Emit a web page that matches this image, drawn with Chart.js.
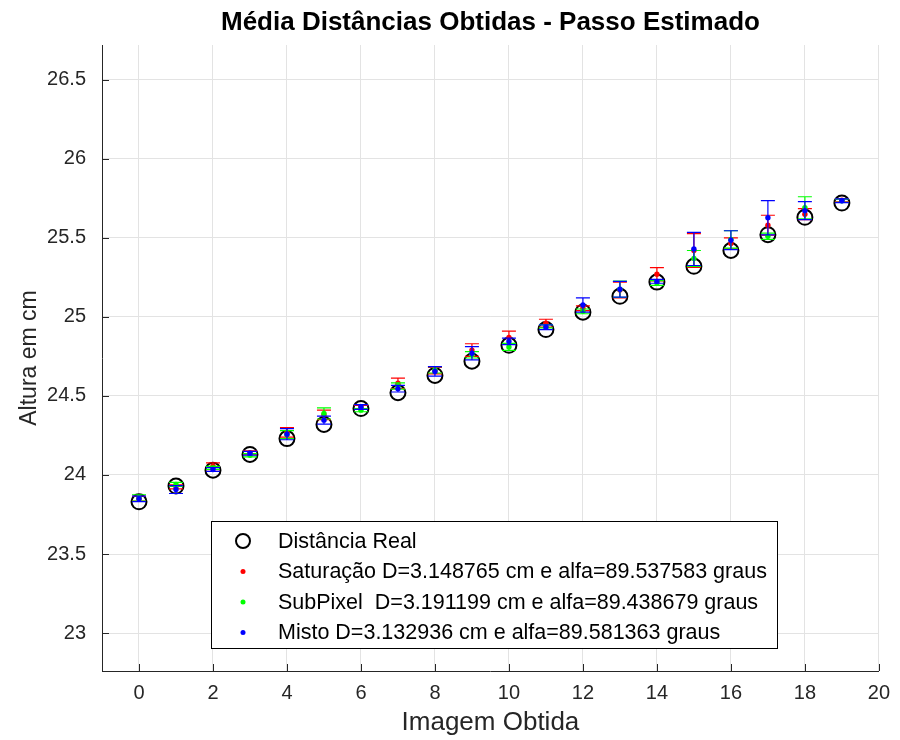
<!DOCTYPE html>
<html>
<head>
<meta charset="utf-8">
<script src="https://cdn.jsdelivr.net/npm/chart.js@4.4.1/dist/chart.umd.min.js"></script>
<style>
  html, body { margin: 0; padding: 0; background: #fff; }
  #wrap { width: 900px; height: 740px; }
</style>
</head>
<body>
<div id="wrap"><canvas id="chart" width="900" height="740"></canvas></div>
<script>
// data
const imagens = [0, 1, 2, 3, 4, 5, 6, 7, 8, 9, 10, 11, 12, 13, 14, 15, 16, 17, 18, 19];
const distReal = [23.83, 23.93, 24.03, 24.13, 24.23, 24.32, 24.42, 24.52, 24.63, 24.72,
                  24.82, 24.92, 25.03, 25.13, 25.22, 25.32, 25.42, 25.52, 25.63, 25.72];

const satMedia = [23.85, 23.925, 24.055, 24.14, 24.27, 24.38, 24.43, 24.58, 24.66, 24.79,
                  24.87, 24.96, 25.055, 25.17, 25.27, 25.42, 25.465, 25.58, 25.65, 25.738];
const satErro = [0.015, 0.013, 0.022, 0.012, 0.03, 0.03, 0.01, 0.033, 0.02, 0.04,
                 0.04, 0.025, 0.015, 0.05, 0.042, 0.107, 0.035, 0.063, 0.035, 0.01];

const subMedia = [23.855, 23.94, 24.045, 24.125, 24.255, 24.389, 24.41, 24.563, 24.665, 24.76,
                  24.81, 24.94, 25.035, 25.175, 25.215, 25.37, 25.49, 25.51, 25.69, 25.735];
const subErro = [0.02, 0.013, 0.01, 0.01, 0.025, 0.035, 0.01, 0.02, 0.02, 0.02,
                 0.022, 0.01, 0.015, 0.052, 0.015, 0.05, 0.055, 0.02, 0.07, 0.01];

const mistoMedia = [23.849, 23.908, 24.035, 24.137, 24.258, 24.347, 24.43, 24.546, 24.655, 24.77,
                    24.845, 24.935, 25.075, 25.175, 25.225, 25.43, 25.485, 25.627, 25.672, 25.735];
const mistoErro = [0.017, 0.025, 0.012, 0.012, 0.035, 0.025, 0.015, 0.021, 0.03, 0.042,
                   0.021, 0.015, 0.045, 0.05, 0.012, 0.105, 0.06, 0.108, 0.057, 0.012];

const xTicks = [0, 2, 4, 6, 8, 10, 12, 14, 16, 18, 20];
const yTicks = [23, 23.5, 24, 24.5, 25, 25.5, 26, 26.5];

const titulo = 'Média Distâncias Obtidas - Passo Estimado';
const legendas = [
  'Distância Real',
  'Saturação D=3.148765 cm e alfa=89.537583 graus',
  'SubPixel  D=3.191199 cm e alfa=89.438679 graus',
  'Misto D=3.132936 cm e alfa=89.581363 graus'
];

const FONT = '"Liberation Sans", Arial, Helvetica, sans-serif';
const AXIS = '#262626';

const pontos = (ys) => imagens.map((x, i) => ({ x: x, y: ys[i] }));

// vertical error bars with caps, drawn just before each dataset's markers
const errorBars = {
  id: 'errorBars',
  beforeDatasetDraw(chart, args) {
    const ds = chart.data.datasets[args.index];
    if (!ds.erros) return;
    const { ctx, scales: { x, y } } = chart;
    ctx.save();
    ctx.strokeStyle = ds.borderColor;
    ctx.lineWidth = 1.2;
    const cap = 7;
    ds.data.forEach((p, i) => {
      const px = x.getPixelForValue(p.x);
      const top = y.getPixelForValue(p.y + ds.erros[i]);
      const bot = y.getPixelForValue(p.y - ds.erros[i]);
      ctx.beginPath();
      ctx.moveTo(px, top); ctx.lineTo(px, bot);
      ctx.moveTo(px - cap, top); ctx.lineTo(px + cap, top);
      ctx.moveTo(px - cap, bot); ctx.lineTo(px + cap, bot);
      ctx.stroke();
    });
    ctx.restore();
  }
};

// title over the axes, inward tick marks + boxed legend, MATLAB style
const matlabExtras = {
  id: 'matlabExtras',
  afterDraw(chart) {
    const { ctx, chartArea: a, scales: { x, y } } = chart;
    ctx.save();

    ctx.fillStyle = '#000';
    ctx.font = 'bold 26px ' + FONT;
    ctx.textAlign = 'center';
    ctx.textBaseline = 'middle';
    ctx.fillText(titulo, (a.left + a.right) / 2, 23);

    ctx.strokeStyle = AXIS;
    ctx.lineWidth = 1;
    ctx.beginPath();
    xTicks.forEach(v => {
      const px = Math.round(x.getPixelForValue(v)) + 0.5;
      ctx.moveTo(px, a.bottom); ctx.lineTo(px, a.bottom - 7);
    });
    yTicks.forEach(v => {
      const py = Math.round(y.getPixelForValue(v)) + 0.5;
      ctx.moveTo(a.left, py); ctx.lineTo(a.left + 7, py);
    });
    ctx.stroke();

    // legend box
    const bx = 211, by = 521, bw = 566, bh = 127;
    ctx.fillStyle = '#fff';
    ctx.fillRect(bx, by, bw, bh);
    ctx.strokeStyle = '#000';
    ctx.strokeRect(bx + 0.5, by + 0.5, bw, bh);
    ctx.font = '21.5px ' + FONT;
    ctx.textBaseline = 'middle';
    ctx.textAlign = 'left';
    chart.data.datasets.forEach((ds, i) => {
      const ry = by + 20 + i * 30.5;
      if (i === 0) {
        ctx.strokeStyle = '#000';
        ctx.lineWidth = 2;
        ctx.beginPath();
        ctx.arc(243, ry, 7, 0, Math.PI * 2);
        ctx.stroke();
      } else {
        ctx.fillStyle = ds.backgroundColor;
        ctx.beginPath();
        ctx.arc(243, ry, 2.5, 0, Math.PI * 2);
        ctx.fill();
      }
      ctx.fillStyle = '#000';
      ctx.fillText(legendas[i], 278, ry + 1);
    });
    ctx.restore();
  }
};

new Chart(document.getElementById('chart'), {
  type: 'scatter',
  data: {
    datasets: [
      { label: legendas[0], data: pontos(distReal), order: 4,
        pointStyle: 'circle', pointRadius: 7.5, pointBorderWidth: 2,
        borderColor: '#000', backgroundColor: 'rgba(0,0,0,0)' },
      { label: legendas[1], data: pontos(satMedia), erros: satErro, order: 3,
        pointRadius: 2.7, pointBorderWidth: 0, borderColor: '#ff0000', backgroundColor: '#ff0000' },
      { label: legendas[2], data: pontos(subMedia), erros: subErro, order: 2,
        pointRadius: 2.7, pointBorderWidth: 0, borderColor: '#00ff00', backgroundColor: '#00ff00' },
      { label: legendas[3], data: pontos(mistoMedia), erros: mistoErro, order: 1,
        pointRadius: 2.7, pointBorderWidth: 0, borderColor: '#0000ff', backgroundColor: '#0000ff' }
    ]
  },
  options: {
    responsive: false,
    animation: false,
    devicePixelRatio: 1,
    layout: { padding: { left: 0, right: 18, top: 45, bottom: 0 } },
    plugins: {
      legend: { display: false },
      tooltip: { enabled: false },
      title: { display: false }
    },
    scales: {
      x: {
        type: 'linear',
        min: -1, max: 20,
        afterBuildTicks: (s) => { s.ticks = xTicks.map(v => ({ value: v })); },
        afterFit: (s) => { s.height = 69; },
        grid: { color: '#e3e3e3', drawTicks: false },
        border: { color: AXIS, width: 1 },
        ticks: { color: AXIS, padding: 10, font: { family: FONT, size: 20 },
                 callback: (v) => String(v) },
        title: { display: true, text: 'Imagem Obtida', color: AXIS,
                 font: { family: FONT, size: 26 }, padding: { top: 4, bottom: 2 } }
      },
      y: {
        type: 'linear',
        min: 22.76, max: 26.72,
        afterBuildTicks: (s) => { s.ticks = yTicks.map(v => ({ value: v })); },
        afterFit: (s) => { s.width = 102; },
        grid: { color: '#e3e3e3', drawTicks: false },
        border: { color: AXIS, width: 1 },
        ticks: { color: AXIS, padding: 16, font: { family: FONT, size: 20 },
                 callback: (v) => String(v) },
        title: { display: true, text: 'Altura em cm', color: AXIS,
                 font: { family: FONT, size: 23 }, padding: { top: 16, bottom: 0 } }
      }
    }
  },
  plugins: [errorBars, matlabExtras]
});
</script>
</body>
</html>
